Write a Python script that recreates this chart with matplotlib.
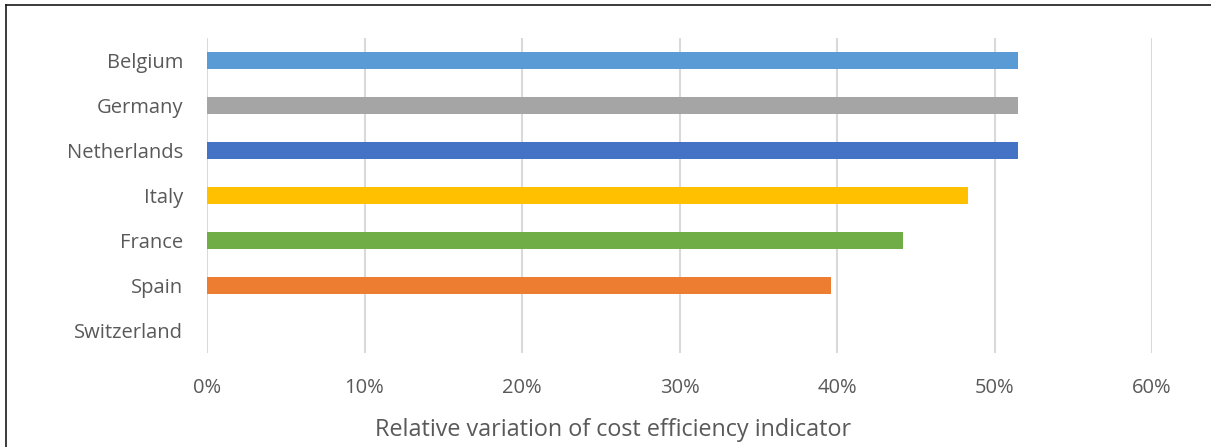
import matplotlib.pyplot as plt
from matplotlib.lines import Line2D
from matplotlib.ticker import FuncFormatter

countries = ["Belgium", "Germany", "Netherlands", "Italy", "France", "Spain", "Switzerland"]
values = [0.515, 0.515, 0.515, 0.483, 0.442, 0.396, 0.0]
colors = ["#5B9BD5", "#A5A5A5", "#4472C4", "#FFC000", "#70AD47", "#ED7D31", "#264478"]
x_ticks = [0.0, 0.1, 0.2, 0.3, 0.4, 0.5, 0.6]

plt.rcParams['font.family'] = ['Open Sans', 'DejaVu Sans']
text_color = "#595959"

W, H = 1211, 447
fig = plt.figure(figsize=(W / 100, H / 100), dpi=100)
ax = fig.add_axes([207 / W, 1 - 353 / H, (1152 - 207) / W, (353 - 38) / H])

ypos = list(range(len(countries)))
ax.barh(ypos, values, height=0.38, color=colors, zorder=3)

ax.set_xlim(0, 0.6)
ax.set_ylim(len(countries) - 0.5, -0.5)
ax.set_yticks(ypos)
ax.set_yticklabels(countries)
ax.set_xticks(x_ticks)
ax.xaxis.set_major_formatter(FuncFormatter(lambda v, _: f"{v * 100:.0f}%"))

ax.grid(axis="x", color="#D9D9D9", linewidth=1.5, zorder=0)
ax.grid(axis="y", visible=False)
for s in ax.spines.values():
    s.set_visible(False)
ax.tick_params(axis="both", length=0, labelsize=14.5, colors=text_color)
ax.tick_params(axis="y", pad=17)
ax.tick_params(axis="x", pad=18)

# axis title, centred on the whole chart area
fig.text(613.5 / W, 1 - 430 / H, "Relative variation of cost efficiency indicator",
         fontsize=16.8, color=text_color, ha="center", va="center")

# frame around the figure (top and left edges)
fig.add_artist(Line2D([6 / W, 1], [1 - 5 / H, 1 - 5 / H], color="#1a1a1a", lw=1.2,
                      transform=fig.transFigure))
fig.add_artist(Line2D([6 / W, 6 / W], [0, 1 - 5 / H], color="#1a1a1a", lw=1.2,
                      transform=fig.transFigure))

fig.savefig("out.png", dpi=100, facecolor="white")
